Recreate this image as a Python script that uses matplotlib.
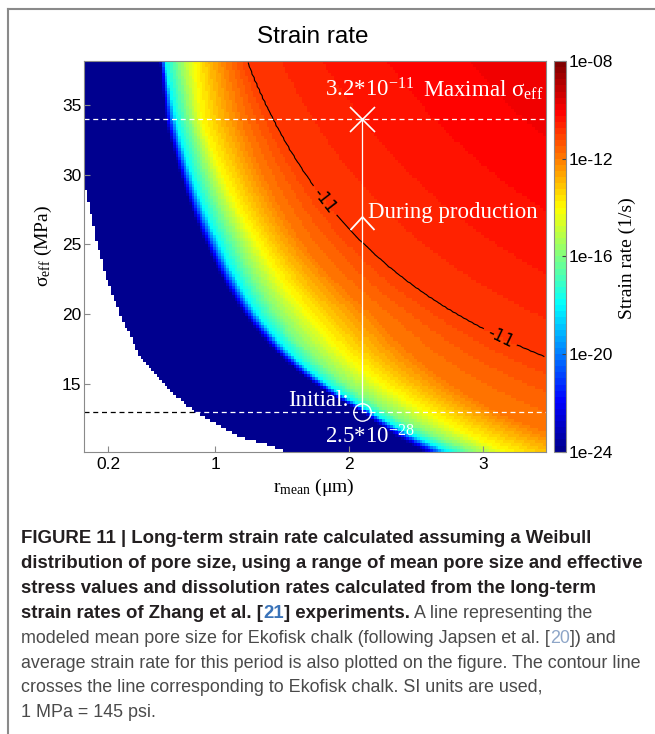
import numpy as np
import matplotlib
matplotlib.use("Agg")
import matplotlib.pyplot as plt
from matplotlib.colors import LinearSegmentedColormap
from matplotlib.path import Path
from matplotlib.lines import Line2D

plt.rcParams["mathtext.fontset"] = "custom"
plt.rcParams["mathtext.rm"] = "Liberation Serif"
plt.rcParams["mathtext.it"] = "Liberation Serif:italic"
plt.rcParams["mathtext.bf"] = "Liberation Serif:bold"
plt.rcParams["contour.negative_linestyle"] = "solid"

# ---------------- data ----------------
# rows of effective stress (MPa) at which the colour bands were read
sigma_rows = [10.27, 13.0, 20.0, 25.0, 34.0, 38.15]
# log10 strain-rate levels
rate_levels = [-24, -22, -18, -16, -14, -13, -12, -11, -10.5, -10]
# r_mean (um) where each level is reached, per sigma row
iso_r = [
    [2.54, 2.09, 1.21, 0.93, 0.626, 0.585],   # -24
    [2.60, 2.12, 1.24, 0.955, 0.648, 0.600],  # -22
    [2.72, 2.17, 1.31, 1.03, 0.70, 0.624],    # -18
    [2.89, 2.30, 1.46, 1.16, 0.80, 0.72],     # -16
    [3.16, 2.60, 1.70, 1.33, 0.90, 0.85],     # -14
    [3.47, 2.84, 1.90, 1.47, 1.035, 0.95],    # -13
    [3.85, 3.10, 2.16, 1.65, 1.185, 1.08],    # -12
    [6.53, 4.84, 2.80, 2.11, 1.427, 1.233],   # -11
    [9.0, 7.0, 4.1, 3.1, 2.10, 1.80],         # -10.5
    [14.0, 11.0, 6.5, 4.9, 3.3, 2.9],         # -10
]
# edge of the computed (non-white) region
nan_sigma = [10.27, 11.35, 13.0, 14.2, 17.1, 20.0, 22.5, 25.0, 27.0, 28.8]
nan_r = [1.51, 1.147, 0.848, 0.70, 0.424, 0.287, 0.188, 0.117, 0.075, 0.033]

r_range = (0.02, 3.47)
sigma_range = (10.13, 38.15)
n_r_cells, n_s_cells = 172, 130

x_ticks = [0.2, 1, 2, 3]
x_tick_labels = ["0.2", "1", "2", "3"]
y_ticks = [15, 20, 25, 30, 35]
cbar_ticks = [-24, -20, -16, -12, -8]
cbar_tick_labels = ["1e-24", "1e-20", "1e-16", "1e-12", "1e-08"]
contour_level = [-11]

r_ekofisk = 2.1
sigma_initial = 13.0
sigma_max = 34.0
sigma_arrow = 26.5

# ---------------- field ----------------
r_edges = np.linspace(r_range[0], r_range[1], n_r_cells + 1)
s_edges = np.linspace(sigma_range[0], sigma_range[1], n_s_cells + 1)
r_c = 0.5 * (r_edges[:-1] + r_edges[1:])
s_c = 0.5 * (s_edges[:-1] + s_edges[1:])

ln_rows = np.log(sigma_rows)
ln_iso = np.log(np.array(iso_r))
field = np.zeros((n_s_cells, n_r_cells))
for j, s in enumerate(s_c):
    lnr_levels = np.array([np.interp(np.log(s), ln_rows, row) for row in ln_iso])
    field[j] = np.interp(np.log(r_c), lnr_levels, rate_levels, left=-30, right=rate_levels[-1])
r_nan_of_s = np.interp(s_c, nan_sigma, nan_r, right=-1.0)
mask = r_c[None, :] < r_nan_of_s[:, None]
field_m = np.ma.masked_where(mask, field)

# ---------------- figure ----------------
W, H = 655, 734
fig = plt.figure(figsize=(W / 100, H / 100), dpi=100)
def fx(p): return p / W
def fy(p): return 1 - p / H

ax = fig.add_axes([fx(84.3), fy(451.7), fx(545.7) - fx(84.3), fy(61) - fy(451.7)])
cax = fig.add_axes([fx(554.3), fy(451.7), fx(566) - fx(554.3), fy(61) - fy(451.7)])

jet64 = LinearSegmentedColormap.from_list(
    "mjet", [(0, (0, 0, 0.5625)), (0.125, (0, 0, 1)), (0.375, (0, 1, 1)),
             (0.625, (1, 1, 0)), (0.875, (1, 0, 0)), (1, (0.5, 0, 0))], N=64)

mesh = ax.pcolormesh(r_edges, s_edges, field_m, cmap=jet64, vmin=-24, vmax=-8,
                     shading="flat", rasterized=True)
cs = ax.contour(r_c, s_c, field, levels=contour_level, colors="black", linewidths=0.8,
                linestyles="solid")
ax.clabel(cs, fmt="%d", manual=[(1.80, 28.0), (3.12, 18.1)], fontsize=12, inline=True)

ax.set_xlim(*r_range)
ax.set_ylim(*sigma_range)
ax.set_xticks(x_ticks)
ax.set_xticklabels(x_tick_labels)
ax.set_yticks(y_ticks)
for lab in ax.get_xticklabels() + ax.get_yticklabels():
    lab.set_family("Liberation Sans")
ax.tick_params(axis="both", direction="in", length=4, color="#8a8a8a", labelsize=12.5)
ax.tick_params(axis="x", pad=4)
ax.tick_params(axis="y", pad=2)
for sp in ax.spines.values():
    sp.set_color("#8a8a8a")
    sp.set_linewidth(0.8)

# dashed stress lines
r_nan_init = float(np.interp(sigma_initial, nan_sigma, nan_r))
dash = (0, (4, 3))
ax.plot([r_range[0], r_range[1]], [sigma_max, sigma_max], color="white", lw=0.9, ls=dash)
ax.plot([r_range[0], r_nan_init], [sigma_initial, sigma_initial], color="black", lw=0.9, ls=dash)
ax.plot([r_nan_init, r_range[1]], [sigma_initial, sigma_initial], color="white", lw=0.9, ls=dash)

# Ekofisk line
ax.plot([r_ekofisk, r_ekofisk], [sigma_initial, sigma_max], color="white", lw=0.9)
ax.plot([r_ekofisk], [sigma_max], marker="x", ms=18, mew=1.2, color="white")
ax.plot([r_ekofisk], [sigma_initial], marker="o", ms=12.5, mew=1.0, mfc="none", mec="white")
chev = Path([(-12, -6.5), (0, 6.5), (12, -6.5)], [Path.MOVETO, Path.LINETO, Path.LINETO])
ax.plot([r_ekofisk], [sigma_arrow], marker=chev, ms=17.3, mew=1.3, mfc="none", mec="white")

serif = "Liberation Serif"
tsz = 16.5
ax.text(1.82, 35.57, r"3.2*10$^{-11}$", color="white", family=serif, size=tsz, va="baseline")
ax.text(2.55, 35.57, r"Maximal σ$_{\mathrm{eff}}$", color="white", family=serif, size=tsz, va="baseline")
ax.text(2.14, 26.9, "During production", color="white", family=serif, size=tsz, va="baseline")
ax.text(1.544, 13.44, "Initial:", color="white", family=serif, size=tsz, va="baseline")
ax.text(1.82, 10.70, r"2.5*10$^{-28}$", color="white", family=serif, size=tsz, va="baseline")

# colorbar
cb = fig.colorbar(mesh, cax=cax, ticks=cbar_ticks)
cb.ax.set_yticklabels(cbar_tick_labels)
for lab in cb.ax.get_yticklabels():
    lab.set_family("Liberation Sans")
cb.ax.tick_params(direction="in", length=3, color="#444444", labelsize=12.5, pad=2)
cb.outline.set_edgecolor("#8a8a8a")
cb.outline.set_linewidth(0.8)

# labels and title
fig.text(fx(313), fy(37), "Strain rate", ha="center", va="center", size=17.5, family="Liberation Sans")
fig.text(fx(43), fy(246), r"σ$_{\mathrm{eff}}$ (MPa)", rotation=90, ha="center", va="center",
         size=14, family=serif)
fig.text(fx(314), fy(487), r"r$_{\mathrm{mean}}$ (μm)", ha="center", va="center", size=14, family=serif)
fig.text(fx(627), fy(258), "Strain rate (1/s)", rotation=90, ha="center", va="center", size=14, family=serif)

# panel border
fig.add_artist(Line2D([fx(7.5), fx(7.5)], [fy(9), 0], transform=fig.transFigure, color="#8a8a8a", lw=1.5))
fig.add_artist(Line2D([fx(7.5), 1], [fy(9), fy(9)], transform=fig.transFigure, color="#8a8a8a", lw=1.5))

# caption
renderer = fig.canvas.get_renderer()
sans = "Liberation Sans"
def width_at(txt, weight, size):
    t = fig.text(0, 0, txt, size=size, weight=weight, family=sans)
    w = t.get_window_extent(renderer).width
    t.remove()
    return w
bold_size = 12 * 622 / width_at("distribution of pore size, using a range of mean pore size and effective", "bold", 12)
reg_size = 12 * 622 / width_at("average strain rate for this period is also plotted on the figure. The contour line", "normal", 12)

c_bold, c_reg, c_blue, c_light = "#231f20", "#4a4a4a", "#3a73b8", "#8ea6c8"
caption = [
    [("FIGURE 11 | Long-term strain rate calculated assuming a Weibull", "bold", c_bold)],
    [("distribution of pore size, using a range of mean pore size and effective", "bold", c_bold)],
    [("stress values and dissolution rates calculated from the long-term", "bold", c_bold)],
    [("strain rates of Zhang et al. [", "bold", c_bold), ("21", "bold", c_blue),
     ("] experiments.", "bold", c_bold), (" A line representing the", "normal", c_reg)],
    [("modeled mean pore size for Ekofisk chalk (following Japsen et al. [", "normal", c_reg),
     ("20", "normal", c_light), ("]) and", "normal", c_reg)],
    [("average strain rate for this period is also plotted on the figure. The contour line", "normal", c_reg)],
    [("crosses the line corresponding to Ekofisk chalk. SI units are used,", "normal", c_reg)],
    [("1 MPa = 145 psi.", "normal", c_reg)],
]
for i, pieces in enumerate(caption):
    yb = 543 + 24.9 * i
    x = 21.0
    for txt, weight, col in pieces:
        size = bold_size if weight == "bold" else reg_size
        t = fig.text(fx(x), fy(yb), txt, size=size, weight=weight, color=col, family=sans,
                     ha="left", va="baseline")
        x += t.get_window_extent(renderer).width

fig.savefig("out.png", dpi=100)
